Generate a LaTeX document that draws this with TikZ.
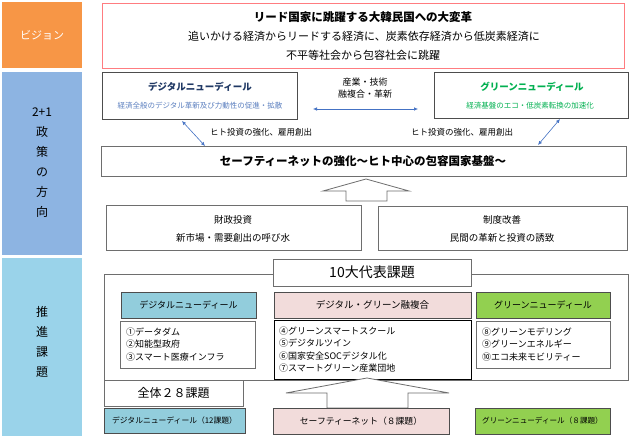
\documentclass[tikz,border=0pt]{standalone}
\usepackage{fontspec}
\setmainfont{Noto Sans CJK JP}
\usetikzlibrary{arrows.meta}
\definecolor{cOrange}{HTML}{F79646}
\definecolor{cPolicy}{HTML}{8DB4E2}
\definecolor{cPromo}{HTML}{9AD3EA}
\definecolor{cRed}{HTML}{FF7C80}
\definecolor{cDark}{HTML}{4D4D4D}
\definecolor{cGray}{HTML}{6E6E6E}
\definecolor{cNavy}{HTML}{1F3864}
\definecolor{cSlate}{HTML}{5B7FBF}
\definecolor{cGreenT}{HTML}{00B050}
\definecolor{cArrow}{HTML}{4472C4}
\definecolor{cCyan}{HTML}{92CDDC}
\definecolor{cPink}{HTML}{F2DCDB}
\definecolor{cLime}{HTML}{92D050}
\begin{document}
\begin{tikzpicture}[x=1pt,y=-1pt,
  lbl/.style={inner sep=0pt, draw=none},
  box/.style={draw=cGray, line width=0.8pt, fill=white, inner sep=0pt},
  dbox/.style={draw=cDark, line width=0.8pt, inner sep=0pt},
  txt/.style={inner sep=0pt, align=center},
  listtxt/.style={inner sep=0pt, align=left, font=\fontsize{9}{12.4}\selectfont},
  dblarrow/.style={draw=cArrow, line width=0.6pt, {Latex[length=4pt,width=3.5pt]}-{Latex[length=4pt,width=3.5pt]}},
  hollow/.style={draw=cGray, line width=0.8pt, fill=white, line join=miter}
]
\fill[white] (0,0) rectangle (630,438);
\useasboundingbox (0,0) rectangle (630,438);

% left column
\node[lbl, fill=cOrange, minimum width=80pt, minimum height=66pt, text=white, font=\fontsize{11}{13}\selectfont] (vis) at (42,35) {ビジョン};
\node[lbl, fill=cPolicy, minimum width=80pt, minimum height=183pt] (pol) at (42,163.5) {};
\node[txt, font=\fontsize{12}{20}\selectfont] (poltxt) at (42,163) {2+1\\政\\策\\の\\方\\向};
\node[lbl, fill=cPromo, minimum width=80pt, minimum height=178pt] (pro) at (42,347) {};
\node[txt, font=\fontsize{12}{20}\selectfont] (protxt) at (42,342) {推\\進\\課\\題};

% vision
\node[draw=cRed, line width=0.8pt, inner sep=0pt, minimum width=522pt, minimum height=65pt] (visbox) at (363,35.5) {};
\node[txt, font=\bfseries\fontsize{11.5}{13}\selectfont] (v1) at (363,17) {リード国家に跳躍する大韓民国への大変革};
\node[txt, font=\fontsize{11}{13}\selectfont] (v2) at (364,36) {追いかける経済からリードする経済に、炭素依存経済から低炭素経済に};
\node[txt, font=\fontsize{11}{13}\selectfont] (v3) at (363,55) {不平等社会から包容社会に跳躍};

% digital / green new deal
\node[dbox, fill=white, minimum width=195pt, minimum height=47pt] (dnd) at (199.5,95.5) {};
\node[txt, font=\bfseries\fontsize{9.5}{11}\selectfont, text=cNavy] (dndt) at (200,87) {デジタルニューディール};
\node[txt, font=\fontsize{7.5}{9}\selectfont, text=cSlate] (dnds) at (200,106) {経済全般のデジタル革新及び力動性の促進・拡散};
\node[dbox, fill=white, minimum width=194pt, minimum height=46pt] (gnd) at (531,95) {};
\node[txt, font=\bfseries\fontsize{9.5}{11}\selectfont, text=cGreenT] (gndt) at (532,87) {グリーンニューディール};
\node[txt, font=\fontsize{7.5}{9}\selectfont, text=cGreenT] (gnds) at (530,106) {経済基盤のエコ・低炭素転換の加速化};

\node[txt, font=\fontsize{9}{12}\selectfont] (mid) at (365,88) {産業・技術\\融複合・革新};
\coordinate (ml) at (313,109);
\coordinate (mr) at (418,109);
\draw[dblarrow] (ml) -- (mr);

\node[txt, font=\fontsize{8.5}{10}\selectfont] (h1) at (261,132) {ヒト投資の強化、雇用創出};
\node[txt, font=\fontsize{8.5}{10}\selectfont] (h2) at (462,132) {ヒト投資の強化、雇用創出};

% safety net
\node[box, minimum width=525pt, minimum height=30pt] (safe) at (363.5,161) {};
\node[txt, font=\bfseries\fontsize{11.5}{13}\selectfont] (safet) at (363,161) {セーフティーネットの強化～ヒト中心の包容国家基盤～};

\coordinate (a1s) at (182,121);
\coordinate (a1e) at (205,146);
\draw[dblarrow] (a1s) -- (a1e);
\coordinate (a2s) at (560,119);
\coordinate (a2e) at (538,145);
\draw[dblarrow] (a2s) -- (a2e);

% big hollow arrow
\draw[hollow] (366,179) -- (409,191) -- (387,191) -- (387,201) -- (346,201) -- (346,191) -- (323,191) -- cycle;

% fiscal / institution
\node[box, minimum width=255pt, minimum height=45pt] (fin) at (233.5,227.5) {};
\node[txt, font=\fontsize{9.5}{18}\selectfont] (fint) at (233,229) {財政投資\\新市場・需要創出の呼び水};
\node[box, minimum width=249pt, minimum height=44pt] (inst) at (502.5,228) {};
\node[txt, font=\fontsize{9.5}{18}\selectfont] (instt) at (502,229) {制度改善\\民間の革新と投資の誘致};

% bottom section frame
\draw[draw=cGray, line width=0.8pt] (104,274) rectangle (628,380);
\node[box, minimum width=198pt, minimum height=27pt, font=\fontsize{14}{16}\selectfont] (ten) at (372,272.5) {10大代表課題};

\node[dbox, fill=cCyan, minimum width=135pt, minimum height=26pt, font=\fontsize{9}{11}\selectfont] (hd1) at (188.5,305) {デジタルニューディール};
\node[box, minimum width=135pt, minimum height=47pt] (ls1) at (187.5,344.5) {};
\node[listtxt, anchor=west] (ls1t) at (126,344.5) {①データダム\\②知能型政府\\③スマート医療インフラ};

\node[dbox, fill=cPink, minimum width=197pt, minimum height=26pt, font=\fontsize{9.5}{11}\selectfont] (hd2) at (372.5,305) {デジタル・グリーン融複合};
\node[box, draw=black, minimum width=197pt, minimum height=59pt] (ls2) at (372.5,349.5) {};
\node[listtxt, anchor=west] (ls2t) at (279,349.5) {④グリーンスマートスクール\\⑤デジタルツイン\\⑥国家安全SOCデジタル化\\⑦スマートグリーン産業団地};

\node[dbox, fill=cLime, minimum width=134pt, minimum height=26pt, font=\fontsize{9}{11}\selectfont] (hd3) at (543,305) {グリーンニューディール};
\node[box, minimum width=134pt, minimum height=47pt] (ls3) at (543,344.5) {};
\node[listtxt, anchor=west] (ls3t) at (482,344.5) {⑧グリーンモデリング\\⑨グリーンエネルギー\\⑩エコ未来モビリティー};

\node[box, minimum width=139pt, minimum height=26pt, font=\fontsize{12}{14}\selectfont] (all) at (173.5,393) {全体２８課題};

% bottom hollow arrow
\draw[hollow] (367,378) -- (449,393) -- (408,393) -- (408,408) -- (327,408) -- (327,393) -- (286,393) -- cycle;

\node[dbox, fill=cCyan, minimum width=141pt, minimum height=25pt, font=\fontsize{7.8}{10}\selectfont] (b1) at (174.5,420.5) {デジタルニューディール（12課題）};
\node[dbox, fill=cPink, minimum width=176pt, minimum height=26pt, font=\fontsize{8.8}{11}\selectfont] (b2) at (361,421) {セーフティーネット（８課題）};
\node[dbox, fill=cLime, minimum width=135pt, minimum height=26pt, font=\fontsize{7.6}{10}\selectfont] (b3) at (542.5,421) {グリーンニューディール（８課題）};
\end{tikzpicture}
\end{document}
